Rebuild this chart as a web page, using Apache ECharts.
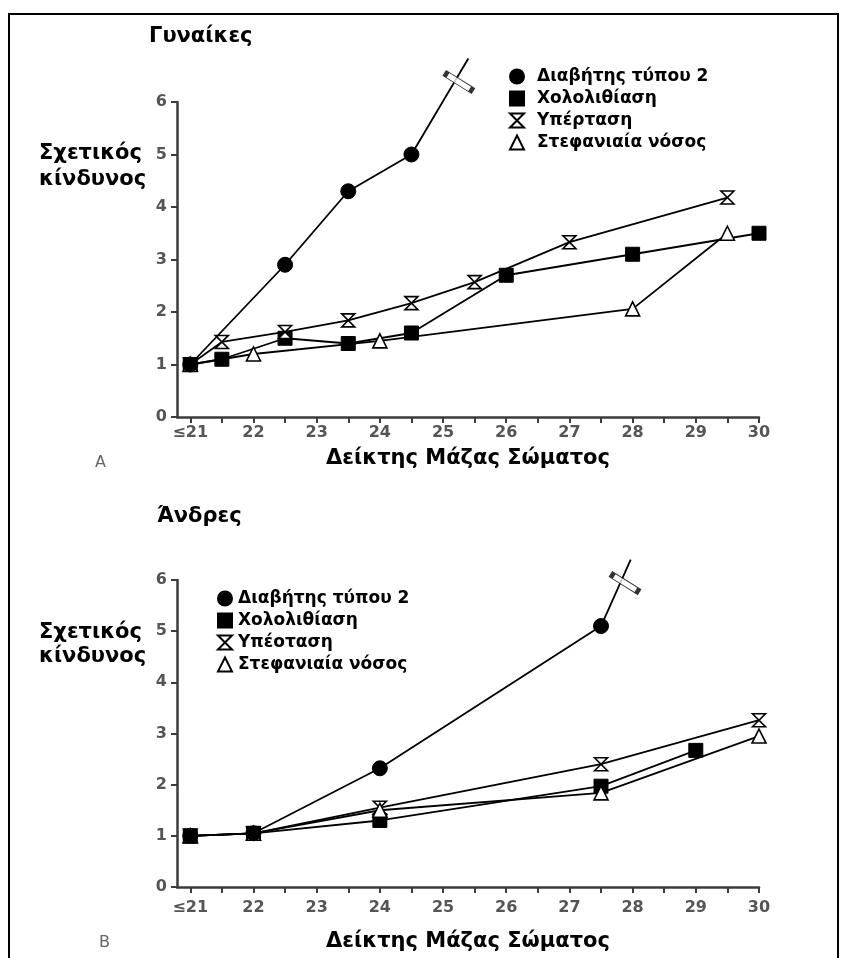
<!DOCTYPE html>
<html>
<head>
<meta charset="utf-8">
<script src="https://cdn.jsdelivr.net/npm/echarts@6/dist/echarts.min.js"></script>
<style>
  html, body { margin: 0; padding: 0; background: #fff; }
  #chart { width: 846px; height: 958px; }
</style>
</head>
<body>
<div id="chart"></div>
<script>
// Body-mass-index axis: labelled values and tick positions (every half unit)
const bmiLabels = [21, 22, 23, 24, 25, 26, 27, 28, 29, 30];
const bmiTicks = [21, 21.5, 22, 22.5, 23, 23.5, 24, 24.5, 25, 25.5, 26, 26.5, 27, 27.5, 28, 28.5, 29, 29.5, 30];

// Legend names
const diabetesName = 'Διαβήτης τύπου 2';
const gallName = 'Χολολιθίαση';
const hyperNameWomen = 'Υπέρταση';
const hyperNameMen = 'Υπέοταση';
const coronaryName = 'Στεφανιαία νόσος';

// Women: relative risk by BMI  [BMI, relative risk]
const womenDiabetes = [[21, 1.0], [22.5, 2.9], [23.5, 4.3], [24.5, 5.0]];
const womenDiabetesRunOff = [[25.4, 6.83]];
const womenGall = [[21, 1.0], [21.5, 1.1], [22.5, 1.5], [23.5, 1.4], [24.5, 1.6], [26, 2.7], [28, 3.1], [30, 3.5]];
const womenHyper = [[21, 1.0], [21.5, 1.43], [22.5, 1.62], [23.5, 1.84], [24.5, 2.17], [25.5, 2.57], [27, 3.33], [29.5, 4.18]];
const womenCoronary = [[21, 1.0], [22, 1.2], [24, 1.45], [28, 2.06], [29.5, 3.5]];
const womenBreak = [[25.25, 6.38]];

// Men: relative risk by BMI
const menDiabetes = [[21, 1.0], [22, 1.05], [24, 2.32], [27.5, 5.1]];
const menDiabetesRunOff = [[27.97, 6.4]];
const menGall = [[21, 1.0], [22, 1.05], [24, 1.3], [27.5, 1.97], [29, 2.67]];
const menHyper = [[21, 1.0], [22, 1.05], [24, 1.55], [27.5, 2.4], [30, 3.26]];
const menCoronary = [[21, 1.0], [22, 1.05], [24, 1.5], [27.5, 1.84], [30, 2.95]];
const menBreak = [[27.88, 5.94]];

const riskMax = 6;

const HOURGLASS = 'path://M0,0 L10,0 L0,10 L10,10 Z';
const BREAK_BAR = 'path://M0,0 L30,0 L30,6 L0,6 Z';
const FONT = '"DejaVu Sans", Verdana, sans-serif';
const AXIS_COLOR = '#3c3c3c';

function xAxisFor(gridIndex, nameGap, labelMargin) {
  return {
    type: 'value', gridIndex, min: 20.79, max: 30,
    axisLine: { show: true, onZero: false, lineStyle: { color: AXIS_COLOR, width: 2.5 } },
    axisTick: { show: true, inside: false, length: 6, customValues: bmiTicks, lineStyle: { color: AXIS_COLOR, width: 2 } },
    axisLabel: {
      customValues: bmiLabels,
      formatter: v => (v === 21 ? '≤21' : String(v)),
      color: '#555', fontSize: 16, fontWeight: 'bold', fontFamily: FONT, margin: labelMargin
    },
    splitLine: { show: false },
    name: 'Δείκτης Μάζας Σώματος', nameLocation: 'middle', nameGap,
    nameTextStyle: { color: '#000', fontSize: 21, fontWeight: 'bold', fontFamily: FONT }
  };
}

function yAxisFor(gridIndex) {
  return {
    type: 'value', gridIndex, min: 0, max: riskMax, interval: 1,
    axisLine: { show: true, lineStyle: { color: AXIS_COLOR, width: 2.5 } },
    axisTick: { show: true, inside: false, length: 6, lineStyle: { color: AXIS_COLOR, width: 2 } },
    axisLabel: { color: '#555', fontSize: 16, fontWeight: 'bold', fontFamily: FONT, margin: 10 },
    splitLine: { show: false }
  };
}

function lineSeries(name, data, axisIndex, symbol, filled, size) {
  return {
    type: 'line', name, data,
    xAxisIndex: axisIndex, yAxisIndex: axisIndex,
    symbol, symbolSize: size, symbolKeepAspect: true,
    showAllSymbol: true, clip: false,
    lineStyle: { color: '#000', width: 1.8 },
    itemStyle: filled
      ? { color: '#000', borderColor: '#000', borderWidth: 1 }
      : { color: '#fff', borderColor: '#000', borderWidth: 1.6 },
    emphasis: { disabled: true },
    z: 3
  };
}

function diabetesSeries(points, runOff, axisIndex) {
  const s = lineSeries(diabetesName, points.concat(runOff.map(p => ({ value: p, symbol: 'none' }))), axisIndex, 'circle', true, 15);
  s.z = 4;
  return s;
}

function breakSeries(data, axisIndex) {
  return {
    type: 'scatter', data, xAxisIndex: axisIndex, yAxisIndex: axisIndex,
    symbol: BREAK_BAR, symbolSize: [30, 6], symbolRotate: -32, clip: false,
    itemStyle: { color: '#fff', borderColor: '#000', borderWidth: 2 },
    emphasis: { disabled: true }, silent: true, z: 6
  };
}

function legendFor(names, left, top, pad) {
  return {
    orient: 'vertical', left, top, itemGap: 3, itemWidth: 14, itemHeight: 14,
    selectedMode: false,
    data: [
      { name: names[0], icon: 'circle' },
      { name: names[1], icon: 'rect' },
      { name: names[2], icon: HOURGLASS },
      { name: names[3], icon: 'triangle' }
    ],
    textStyle: { color: '#000', fontSize: 17, fontWeight: 'bold', fontFamily: FONT, lineHeight: 19, padding: [0, 0, 0, pad] }
  };
}

function textEl(text, left, top, style) {
  return { type: 'text', left, top, style: Object.assign({ text, fill: '#000', font: 'bold 21px ' + FONT }, style || {}) };
}

const chart = echarts.init(document.getElementById('chart'), null, { renderer: 'canvas' });

chart.setOption({
  animation: false,
  backgroundColor: '#fff',
  grid: [
    { left: 177, right: 87, top: 102, height: 315 },
    { left: 177, right: 87, top: 580, height: 307 }
  ],
  xAxis: [xAxisFor(0, 31, 8), xAxisFor(1, 44, 13)],
  yAxis: [yAxisFor(0), yAxisFor(1)],
  legend: [
    legendFor([diabetesName, gallName, hyperNameWomen, coronaryName], 504, 62, 8),
    legendFor([diabetesName, gallName, hyperNameMen, coronaryName], 212, 584, 1)
  ],
  graphic: [
    { type: 'rect', shape: { x: 9, y: 14, width: 829, height: 960 }, style: { fill: 'none', stroke: '#000', lineWidth: 2 }, silent: true },
    textEl('Γυναίκες', 149, 26),
    textEl('Άνδρες', 157, 506),
    textEl('Σχετικός\nκίνδυνος', 39, 141, { lineHeight: 26 }),
    textEl('Σχετικός\nκίνδυνος', 39, 621, { lineHeight: 24 }),
    textEl('A', 95, 455, { fill: '#666', font: '16px ' + FONT }),
    textEl('B', 99, 935, { fill: '#666', font: '16px ' + FONT })
  ],
  series: [
    diabetesSeries(womenDiabetes, womenDiabetesRunOff, 0),
    lineSeries(gallName, womenGall, 0, 'rect', true, 14),
    lineSeries(hyperNameWomen, womenHyper, 0, HOURGLASS, false, 13),
    lineSeries(coronaryName, womenCoronary, 0, 'triangle', false, 14),
    breakSeries(womenBreak, 0),

    diabetesSeries(menDiabetes, menDiabetesRunOff, 1),
    lineSeries(gallName, menGall, 1, 'rect', true, 14),
    lineSeries(hyperNameMen, menHyper, 1, HOURGLASS, false, 13),
    lineSeries(coronaryName, menCoronary, 1, 'triangle', false, 14),
    breakSeries(menBreak, 1)
  ]
});
</script>
</body>
</html>
